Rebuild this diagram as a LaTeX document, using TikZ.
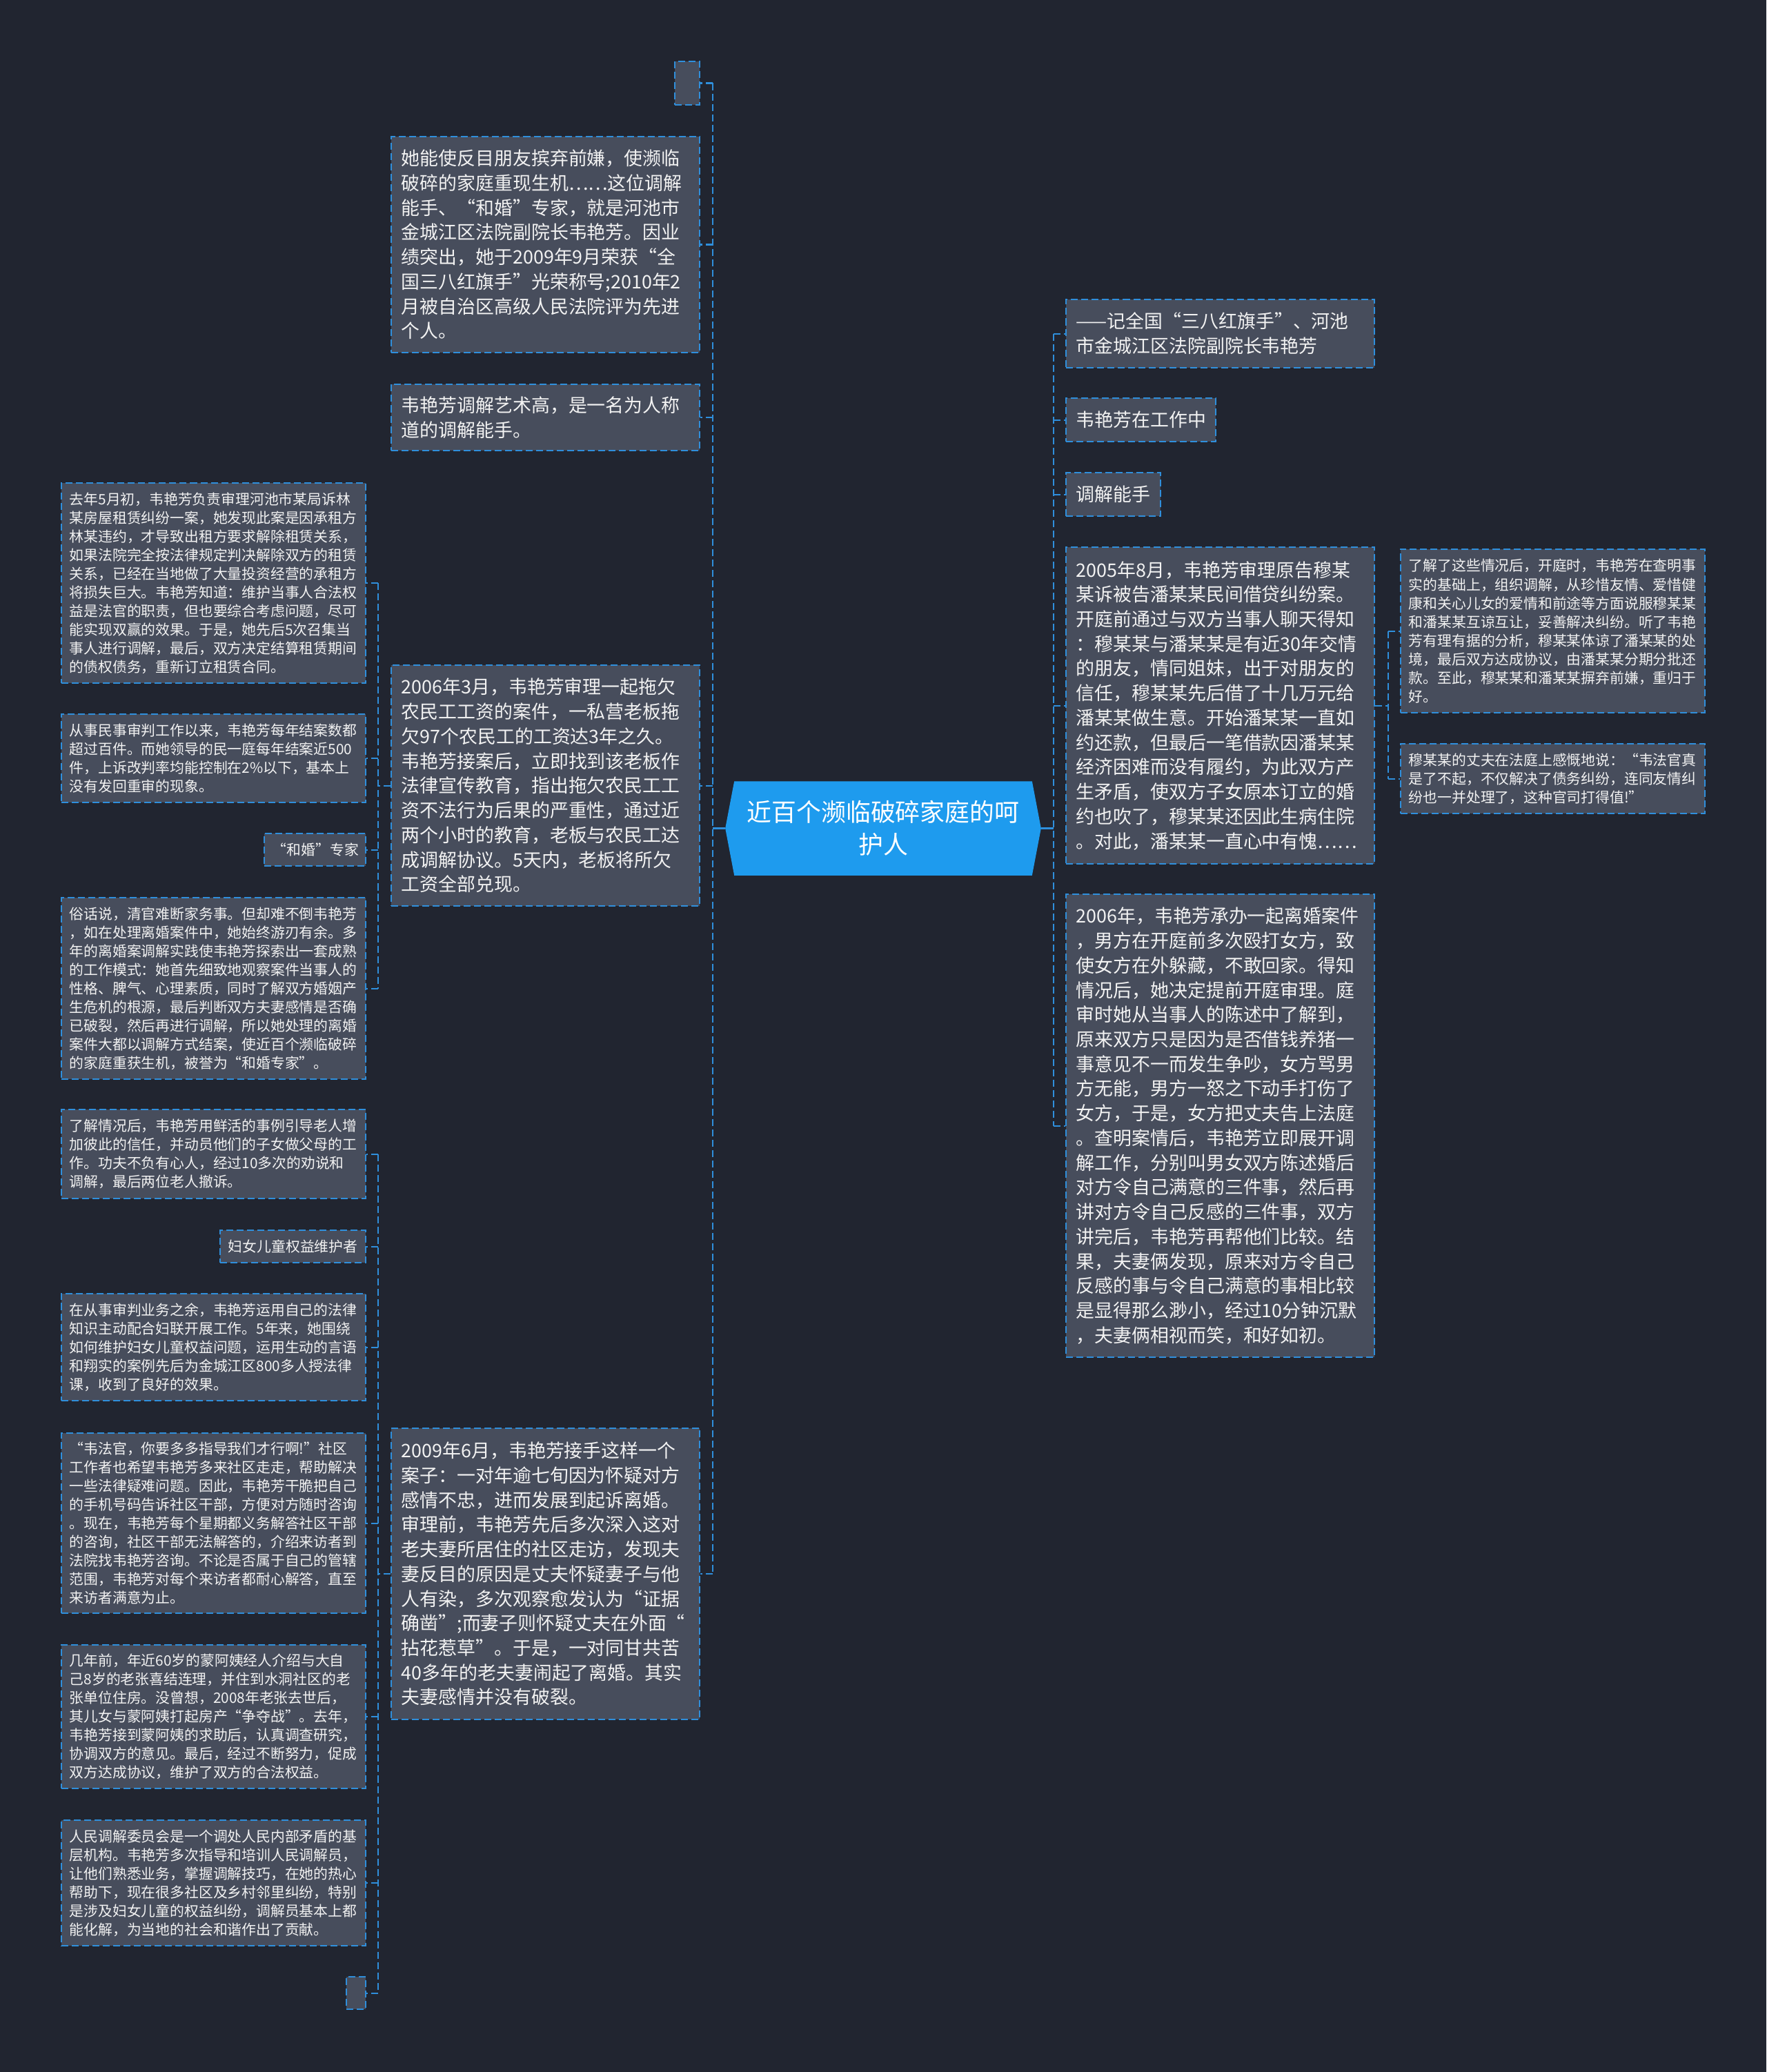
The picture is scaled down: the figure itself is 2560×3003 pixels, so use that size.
\documentclass[tikz,border=0pt]{standalone}
\usepackage{fontspec}
\setmainfont{Noto Sans CJK SC}
\usetikzlibrary{backgrounds}

\definecolor{pagebg}{HTML}{212530}
\definecolor{cardfill}{HTML}{474D5C}
\definecolor{linkblue}{HTML}{2F8FDC}
\definecolor{hubfill}{HTML}{1E9BEE}
\definecolor{cardtext}{HTML}{F2F2F2}

\begin{document}
\begin{tikzpicture}[
  x=0.01cm, y=-0.01cm,
  hub/.style={rectangle, text=white, font=\fontsize{10.2pt}{13.3pt}\selectfont,
              align=center, minimum width=4.56cm, minimum height=1.35cm, inner sep=0pt},
  card/.style={rectangle, draw=linkblue, fill=cardfill, line width=0.57pt,
               dash pattern=on 2.85pt off 1.42pt, text=cardtext, align=left, inner ysep=0pt},
  topic/.style={card, font=\fontsize{7.65pt}{10.16pt}\selectfont,
                text width=4.17cm, inner xsep=0.15cm},
  detail/.style={card, font=\fontsize{5.92pt}{7.68pt}\selectfont,
                 text width=4.17cm, inner xsep=0.12cm},
  stub/.style={card, inner sep=0pt},
  link/.style={draw=linkblue, line width=0.57pt, dash pattern=on 2.85pt off 1.42pt},
  trunk/.style={draw=linkblue, line width=0.75pt}
]
\useasboundingbox (0,0) rectangle (2560,3003);

% Centre
\node[hub] (hub) at (1280,1200.5) {近百个濒临破碎家庭的呵\\护人};

% Left branch, first level
\node[stub, minimum width=0.36cm, minimum height=0.63cm] (e1) at (996,120.5) {};

\node[topic, minimum height=3.13cm] (ta) at (790.5,354.5)
  {她能使反目朋友摈弃前嫌，使濒临\\破碎的家庭重现生机……这位调解\\能手、“和婚”专家，就是河池市\\金城江区法院副院长韦艳芳。因业\\绩突出，她于2009年9月荣获“全\\国三八红旗手”光荣称号;2010年2\\月被自治区高级人民法院评为先进\\个人。};

\node[topic, minimum height=0.96cm] (tb) at (790.5,605)
  {韦艳芳调解艺术高，是一名为人称\\道的调解能手。};

\node[topic, minimum height=3.49cm] (tc) at (790.5,1138.5)
  {2006年3月，韦艳芳审理一起拖欠\\农民工工资的案件，一私营老板拖\\欠97个农民工的工资达3年之久。\\韦艳芳接案后，立即找到该老板作\\法律宣传教育，指出拖欠农民工工\\资不法行为后果的严重性，通过近\\两个小时的教育，老板与农民工达\\成调解协议。5天内，老板将所欠\\工资全部兑现。};

\node[topic, minimum height=4.22cm] (td) at (790.5,2281)
  {2009年6月，韦艳芳接手这样一个\\案子：一对年逾七旬因为怀疑对方\\感情不忠，进而发展到起诉离婚。\\审理前，韦艳芳先后多次深入这对\\老夫妻所居住的社区走访，发现夫\\妻反目的原因是丈夫怀疑妻子与他\\人有染，多次观察愈发认为“证据\\确凿”;而妻子则怀疑丈夫在外面“\\拈花惹草”。于是，一对同甘共苦\\40多年的老夫妻闹起了离婚。其实\\夫妻感情并没有破裂。};

% Left branch, second level
\node[detail, minimum height=2.90cm] (l1) at (309.5,845)
  {去年5月初，韦艳芳负责审理河池市某局诉林\\某房屋租赁纠纷一案，她发现此案是因承租方\\林某违约，才导致出租方要求解除租赁关系，\\如果法院完全按法律规定判决解除双方的租赁\\关系，已经在当地做了大量投资经营的承租方\\将损失巨大。韦艳芳知道：维护当事人合法权\\益是法官的职责，但也要综合考虑问题，尽可\\能实现双赢的效果。于是，她先后5次召集当\\事人进行调解，最后，双方决定结算租赁期间\\的债权债务，重新订立租赁合同。};

\node[detail, minimum height=1.28cm] (l2) at (309.5,1099)
  {从事民事审判工作以来，韦艳芳每年结案数都\\超过百件。而她领导的民一庭每年结案近500\\件，上诉改判率均能控制在2\%以下，基本上\\没有发回重审的现象。};

\node[detail, text width=1.23cm, minimum height=0.47cm] (l3) at (456.5,1231.5)
  {“和婚”专家};

\node[detail, minimum height=2.63cm] (l4) at (309.5,1432.5)
  {俗话说，清官难断家务事。但却难不倒韦艳芳\\，如在处理离婚案件中，她始终游刃有余。多\\年的离婚案调解实践使韦艳芳探索出一套成熟\\的工作模式：她首先细致地观察案件当事人的\\性格、脾气、心理素质，同时了解双方婚姻产\\生危机的根源，最后判断双方夫妻感情是否确\\已破裂，然后再进行调解，所以她处理的离婚\\案件大都以调解方式结案，使近百个濒临破碎\\的家庭重获生机，被誉为“和婚专家”。};

\node[detail, minimum height=1.29cm] (l5) at (309.5,1672.5)
  {了解情况后，韦艳芳用鲜活的事例引导老人增\\加彼此的信任，并动员他们的子女做父母的工\\作。功夫不负有心人，经过10多次的劝说和\\调解，最后两位老人撤诉。};

\node[detail, text width=1.87cm, minimum height=0.47cm] (l6) at (424.5,1806.5)
  {妇女儿童权益维护者};

\node[detail, minimum height=1.55cm] (l7) at (309.5,1952.5)
  {在从事审判业务之余，韦艳芳运用自己的法律\\知识主动配合妇联开展工作。5年来，她围绕\\如何维护妇女儿童权益问题，运用生动的言语\\和翔实的案例先后为金城江区800多人授法律\\课，收到了良好的效果。};

\node[detail, minimum height=2.61cm] (l8) at (309.5,2207.5)
  {“韦法官，你要多多指导我们才行啊!”社区\\工作者也希望韦艳芳多来社区走走，帮助解决\\一些法律疑难问题。因此，韦艳芳干脆把自己\\的手机号码告诉社区干部，方便对方随时咨询\\。现在，韦艳芳每个星期都义务解答社区干部\\的咨询，社区干部无法解答的，介绍来访者到\\法院找韦艳芳咨询。不论是否属于自己的管辖\\范围，韦艳芳对每个来访者都耐心解答，直至\\来访者满意为止。};

\node[detail, minimum height=2.08cm] (l9) at (309.5,2488)
  {几年前，年近60岁的蒙阿姨经人介绍与大自\\己8岁的老张喜结连理，并住到水洞社区的老\\张单位住房。没曾想，2008年老张去世后，\\其儿女与蒙阿姨打起房产“争夺战”。去年，\\韦艳芳接到蒙阿姨的求助后，认真调查研究，\\协调双方的意见。最后，经过不断努力，促成\\双方达成协议，维护了双方的合法权益。};

\node[detail, minimum height=1.82cm] (l10) at (309.5,2729)
  {人民调解委员会是一个调处人民内部矛盾的基\\层机构。韦艳芳多次指导和培训人民调解员，\\让他们熟悉业务，掌握调解技巧，在她的热心\\帮助下，现在很多社区及乡村邻里纠纷，特别\\是涉及妇女儿童的权益纠纷，调解员基本上都\\能化解，为当地的社会和谐作出了贡献。};

\node[stub, minimum width=0.28cm, minimum height=0.47cm] (l11) at (516,2888.5) {};

% Right branch
\node[topic, minimum height=0.99cm] (r1) at (1768.5,483.5)
  {——记全国“三八红旗手”、河池\\市金城江区法院副院长韦艳芳};

\node[topic, text width=1.87cm, minimum height=0.63cm] (r2) at (1653.5,608.5)
  {韦艳芳在工作中};

\node[topic, text width=1.07cm, minimum height=0.63cm] (r3) at (1613.5,716.5)
  {调解能手};

\node[topic, minimum height=4.59cm] (r4) at (1768.5,1022.5)
  {2005年8月，韦艳芳审理原告穆某\\某诉被告潘某某民间借贷纠纷案。\\开庭前通过与双方当事人聊天得知\\：穆某某与潘某某是有近30年交情\\的朋友，情同姐妹，出于对朋友的\\信任，穆某某先后借了十几万元给\\潘某某做生意。开始潘某某一直如\\约还款，但最后一笔借款因潘某某\\经济困难而没有履约，为此双方产\\生矛盾，使双方子女原本订立的婚\\约也吹了，穆某某还因此生病住院\\。对此，潘某某一直心中有愧……};

\node[detail, minimum height=2.37cm] (r4a) at (2250.5,914.5)
  {了解了这些情况后，开庭时，韦艳芳在查明事\\实的基础上，组织调解，从珍惜友情、爱惜健\\康和关心儿女的爱情和前途等方面说服穆某某\\和潘某某互谅互让，妥善解决纠纷。听了韦艳\\芳有理有据的分析，穆某某体谅了潘某某的处\\境，最后双方达成协议，由潘某某分期分批还\\款。至此，穆某某和潘某某摒弃前嫌，重归于\\好。};

\node[detail, minimum height=1.01cm] (r4b) at (2250.5,1128.5)
  {穆某某的丈夫在法庭上感慨地说：“韦法官真\\是了不起，不仅解决了债务纠纷，连同友情纠\\纷也一并处理了，这种官司打得值!”};

\node[topic, minimum height=6.71cm] (r5) at (1768.5,1631.5)
  {2006年，韦艳芳承办一起离婚案件\\，男方在开庭前多次殴打女方，致\\使女方在外躲藏，不敢回家。得知\\情况后，她决定提前开庭审理。庭\\审时她从当事人的陈述中了解到，\\原来双方只是因为是否借钱养猪一\\事意见不一而发生争吵，女方骂男\\方无能，男方一怒之下动手打伤了\\女方，于是，女方把丈夫告上法庭\\。查明案情后，韦艳芳立即展开调\\解工作，分别叫男女双方陈述婚后\\对方令自己满意的三件事，然后再\\讲对方令自己反感的三件事，双方\\讲完后，韦艳芳再帮他们比较。结\\果，夫妻俩发现，原来对方令自己\\反感的事与令自己满意的事相比较\\是显得那么渺小，经过10分钟沉默\\，夫妻俩相视而笑，和好如初。};

% Spines
\coordinate (spineL) at (1033,0);
\coordinate (spineR) at (1527,0);
\coordinate (subL) at (548,0);
\coordinate (subR) at (2012,0);

\draw[trunk] (hub.west) -- (hub.west -| spineL);
\draw[trunk] (hub.east) -- (hub.east -| spineR);

\draw[link] (e1.east -| spineL) -- (td.east -| spineL);
\foreach \n in {e1,ta,tb,tc,td}
  \draw[link] (\n.east -| spineL) -- (\n.east);

\draw[link] (r1.west -| spineR) -- (r5.west -| spineR);
\foreach \n in {r1,r2,r3,r4,r5}
  \draw[link] (\n.west -| spineR) -- (\n.west);

\draw[link] (tc.west) -- (tc.west -| subL);
\draw[link] (l1.east -| subL) -- (l4.east -| subL);
\foreach \n in {l1,l2,l3,l4}
  \draw[link] (\n.east -| subL) -- (\n.east);

\draw[link] (td.west) -- (td.west -| subL);
\draw[link] (l5.east -| subL) -- (l11.east -| subL);
\foreach \n in {l5,l6,l7,l8,l9,l10,l11}
  \draw[link] (\n.east -| subL) -- (\n.east);

\draw[link] (r4.east) -- (r4.east -| subR);
\draw[link] (r4a.west -| subR) -- (r4b.west -| subR);
\foreach \n in {r4a,r4b}
  \draw[link] (\n.west -| subR) -- (\n.west);

% Page and centre shape
\begin{scope}[on background layer]
  \fill[pagebg] (0,0) rectangle (2560,3003);
  \fill[hubfill] ([xshift=0.13cm]hub.north west) -- ([xshift=-0.13cm]hub.north east)
    -- (hub.east) -- ([xshift=-0.13cm]hub.south east)
    -- ([xshift=0.13cm]hub.south west) -- (hub.west) -- cycle;
\end{scope}
\end{tikzpicture}
\end{document}
